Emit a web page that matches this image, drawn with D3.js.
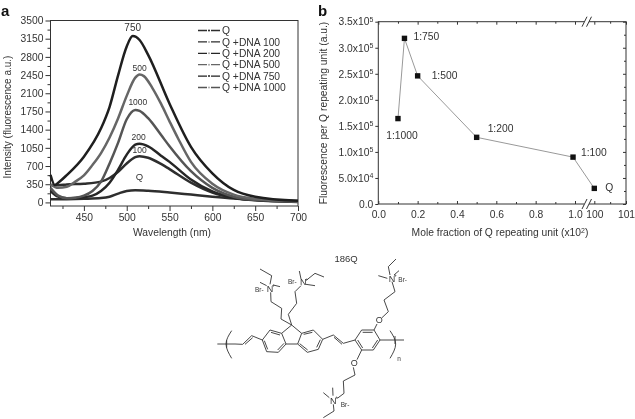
<!DOCTYPE html>
<html>
<head>
<meta charset="utf-8">
<script src="https://cdn.jsdelivr.net/npm/d3@7"></script>
<style>
body { margin: 0; background: #fff; }
svg { filter: blur(0.35px); }
text { font-family: "Liberation Sans", Arial, sans-serif; fill: #333; }
.domain, .tick line { stroke: #333; }
</style>
</head>
<body>
<svg id="chart" width="635" height="419"></svg>
<script>
// panel a: spectra [wavelength, intensity]
const specQ = [[411,60],[430,62],[450,70],[470,85],[480,110],[490,170],[500,220],[510,235],[525,225],[550,190],[575,150],[600,110],[625,75],[650,50],[700,25]];
const spec100 = [[411,330],[420,330],[430,345],[450,360],[470,400],[480,470],[490,590],[500,750],[510,870],[515,890],[525,860],[540,740],[550,640],[575,380],[600,190],[625,90],[650,45],[700,15]];
const spec200 = [[411,220],[420,110],[430,80],[450,100],[460,130],[470,220],[480,380],[490,630],[500,920],[510,1110],[515,1130],[525,1080],[540,900],[550,780],[575,440],[600,210],[625,90],[650,40],[700,10]];
const spec500 = [[411,350],[420,280],[430,300],[440,400],[450,520],[460,720],[470,950],[480,1250],[490,1620],[500,2050],[510,2400],[515,2460],[520,2430],[530,2200],[540,1900],[550,1560],[560,1230],[575,780],[600,360],[625,150],[650,70],[700,20]];
const spec750 = [[411,530],[416,335],[420,380],[430,526],[450,880],[470,1425],[480,1840],[490,2450],[500,3000],[507,3200],[515,3125],[525,2840],[550,1900],[575,1070],[600,560],[625,240],[650,110],[700,30]];
const spec1000 = [[411,280],[420,130],[430,80],[440,90],[450,130],[460,220],[470,400],[480,750],[490,1150],[500,1600],[510,1780],[515,1760],[525,1620],[540,1300],[550,1080],[575,600],[600,280],[625,110],[650,50],[700,15]];
const seriesNames = ['Q', 'Q +DNA 100', 'Q +DNA 200', 'Q +DNA 500', 'Q +DNA 750', 'Q +DNA 1000'];
const seriesValues = [specQ, spec100, spec200, spec500, spec750, spec1000];
const seriesColors = ['#2e2e2e', '#2e2e2e', '#262626', '#666', '#1f1f1f', '#555'];
const drawOrder = [0, 1, 2, 5, 3, 4];
const peakLabels = [['750', 507, 3290], ['500', 515, 2535], ['1000', 513, 1865], ['200', 514, 1200], ['100', 515, 960], ['Q', 515, 430]];
const yTicksA = [0, 350, 700, 1050, 1400, 1750, 2100, 2450, 2800, 3150, 3500];
const xTicksA = [450, 500, 550, 600, 650, 700];

// panel b
const moleFraction = [0.1, 0.133, 0.2, 0.5, 0.99, 100];
const fluorPerUnit = [1.64e5, 3.18e5, 2.46e5, 1.28e5, 0.9e5, 0.3e5];
const ratioLabels = ['1:1000', '1:750', '1:500', '1:200', '1:100', 'Q'];
const ratioDx = [4, 9, 14, 11, 8, 11];
const ratioDy = [20, 2, 3, -5, -1, 3];
const yTicksB = [[0, '0.0', ''], [5e4, '5.0x10', '4'], [1e5, '1.0x10', '5'], [1.5e5, '1.5x10', '5'], [2e5, '2.0x10', '5'], [2.5e5, '2.5x10', '5'], [3e5, '3.0x10', '5'], [3.5e5, '3.5x10', '5']];
const xTicksB = [[0, '0.0'], [0.2, '0.2'], [0.4, '0.4'], [0.6, '0.6'], [0.8, '0.8'], [1, '1.0'], [100, '100'], [101, '101']];
const xMinorB = [0.1, 0.3, 0.5, 0.7, 0.9, 100.5];
const yMinorB = [2.5e4, 7.5e4, 1.25e5, 1.75e5, 2.25e5, 2.75e5, 3.25e5];

// structure 186Q, drawn in its own 720 x 522 unit box
const bonds = [
  [[52,297],[105,297],[128,298],[155,272],[187,285]], [[80,285],[80,309]], [[135,298],[158,278]],
  [[187,285],[210,255],[245,265],[258,297],[235,322],[200,320],[187,285]],
  [[213,262],[240,270]], [[252,295],[233,315]], [[203,313],[193,287]],
  [[245,265],[275,240],[305,265],[293,297],[258,297]],
  [[305,265],[340,255],[368,283],[355,313],[322,322],[293,297]],
  [[311,268],[337,262]], [[361,284],[350,307]], [[323,315],[299,296]],
  [[368,283],[400,270],[430,295],[465,285]], [[402,277],[426,298]],
  [[465,285],[485,255],[522,255],[540,285],[520,315],[485,315],[465,285]],
  [[488,262],[518,262]], [[533,285],[517,309]], [[488,309],[473,285]],
  [[522,255],[531,237]], [[546,218],[565,200],[552,165],[585,140],[576,110]],
  [[570,90],[565,65],[588,42]], [[562,100],[535,92]], [[582,90],[597,77]],
  [[485,315],[471,344]], [[460,367],[465,390],[430,408],[432,445],[412,460]],
  [[388,458],[370,443]], [[399,452],[398,428]], [[400,478],[402,498],[370,518]],
  [[540,285],[612,285]], [[585,273],[585,297]],
  [[275,240],[243,222],[245,190],[213,170],[212,142]],
  [[210,118],[215,92],[180,72]], [[200,122],[180,112]], [[220,120],[240,125]],
  [[275,240],[265,208],[290,175],[285,140],[303,122]],
  [[303,102],[298,78]], [[318,118],[345,122]], [[320,105],[345,85],[372,96]]
];
const brackets = [[[95,257],[78,297],[95,340]], [[570,257],[587,297],[570,340]]];
const atoms = [['O',538,226,9],['O',463,355,9],['N',576,101,9],['N',400,467,9],['N',210,131,9],['N',310,112,9],
  ['+',586,92,5],['+',410,458,5],['+',220,122,5],['+',320,103,5],
  ['Br-',608,103,6.5],['Br-',435,479,6.5],['Br-',178,133,6.5],['Br-',277,109,6.5],['n',597,342,6.5]];

const fs = '10.3px';
const svg = d3.select('#chart');

function sup(sel, base, power) {
    sel.text(base);
    if (power) {
        sel.append('tspan').attr('dy', -3.5).style('font-size', '7px').text(power);
    }
}

// ---- panel a
const xA = d3.scaleLinear().domain([411, 700]).range([50.5, 298]);
const yA = d3.scaleLinear().domain([-69, 3500]).range([206, 20.5]);
const plotA = svg.append('g');

plotA.append('rect').attr('x', 50.5).attr('y', 20.5).attr('width', 247.5).attr('height', 185.5)
    .attr('fill', 'none').attr('stroke', '#333').attr('stroke-width', 1);

const axLeftA = d3.axisLeft(yA).tickValues(yTicksA).tickSize(5).tickPadding(2).tickFormat(d3.format('d'));
const gya = plotA.append('g').attr('transform', 'translate(50.5,0)').call(axLeftA);
gya.select('.domain').remove();
gya.selectAll('text').style('font-size', fs);
plotA.append('g').attr('transform', 'translate(50.5,0)')
    .call(d3.axisLeft(yA).tickValues(d3.range(175, 3500, 350)).tickSize(3).tickFormat(''))
    .select('.domain').remove();

const axBottomA = d3.axisBottom(xA).tickValues(xTicksA).tickSize(5).tickPadding(3);
const gxa = plotA.append('g').attr('transform', 'translate(0,206)').call(axBottomA);
gxa.select('.domain').remove();
gxa.selectAll('text').style('font-size', fs);
plotA.append('g').attr('transform', 'translate(0,206)')
    .call(d3.axisBottom(xA).tickValues(d3.range(425, 700, 50)).tickSize(3).tickFormat(''))
    .select('.domain').remove();

const lineA = d3.line().x(d => xA(d[0])).y(d => yA(d[1])).curve(d3.curveMonotoneX);
plotA.selectAll('.spec').data(drawOrder).enter().append('path')
    .attr('class', 'spec')
    .attr('d', i => lineA(seriesValues[i]))
    .attr('fill', 'none')
    .attr('stroke', i => seriesColors[i])
    .attr('stroke-width', 2.5);

plotA.selectAll('.peak').data(peakLabels).enter().append('text')
    .attr('class', 'peak')
    .attr('x', d => xA(d[1]))
    .attr('y', d => yA(d[2]))
    .attr('text-anchor', 'middle')
    .style('font-size', (d, i) => i === 0 ? '10px' : (i === 5 ? '9.5px' : '8.5px'))
    .text(d => d[0]);

const legend = plotA.selectAll('.leg').data(seriesNames).enter().append('g')
    .attr('class', 'leg')
    .attr('transform', (d, i) => 'translate(198,' + (30.5 + i * 11.4) + ')');
legend.append('line').attr('x1', 0).attr('x2', 22).attr('stroke', (d, i) => seriesColors[i]).attr('stroke-width', 1.3).attr('stroke-dasharray', '9 4 9');
legend.append('circle').attr('cx', 11).attr('r', 1).attr('fill', (d, i) => (i === 0 || i === 4) ? '#222' : '#aaa');
legend.append('text').attr('x', 24).attr('y', 3.7).style('font-size', fs).text(d => d);

plotA.append('text').attr('x', 172).attr('y', 236).attr('text-anchor', 'middle').style('font-size', fs).text('Wavelength (nm)');
plotA.append('text').attr('transform', 'translate(11,117) rotate(-90)').attr('text-anchor', 'middle').style('font-size', '10px').text('Intensity (fluorescence a.u.)');
svg.append('text').attr('x', 1).attr('y', 16).style('font-size', '15px').style('font-weight', 'bold').style('fill', '#111').text('a');

// ---- panel b
const xB = d3.scaleLinear().domain([0, 1, 100, 101]).range([378.3, 575, 594.3, 626]);
const yB = d3.scaleLinear().domain([0, 3.5e5]).range([204, 21.7]);
const plotB = svg.append('g');

plotB.append('rect').attr('x', 378.3).attr('y', 21.7).attr('width', 247.7).attr('height', 182.3)
    .attr('fill', 'none').attr('stroke', '#333').attr('stroke-width', 1);

const gyb = plotB.append('g').attr('transform', 'translate(378.3,0)')
    .call(d3.axisLeft(yB).tickValues(yTicksB.map(d => d[0])).tickSize(3).tickPadding(2).tickFormat(''));
gyb.select('.domain').remove();
gyb.selectAll('.tick text').each(function (d, i) {
    d3.select(this).style('font-size', fs).call(sup, yTicksB[i][1], yTicksB[i][2]);
});
const gyr = plotB.append('g').attr('transform', 'translate(626,0)')
    .call(d3.axisRight(yB).tickValues(yTicksB.map(d => d[0])).tickSize(-3).tickFormat(''));
gyr.select('.domain').remove();
plotB.append('g').attr('transform', 'translate(626,0)')
    .call(d3.axisRight(yB).tickValues(yMinorB).tickSize(-2).tickFormat(''))
    .select('.domain').remove();

// bottom ticks point into the plot, labels stay below
const gxb = plotB.append('g').attr('transform', 'translate(0,204)')
    .call(d3.axisBottom(xB).tickValues(xTicksB.map(d => d[0])).tickSizeInner(-3).tickSizeOuter(0).tickPadding(7).tickFormat((d, i) => xTicksB[i][1]));
gxb.select('.domain').remove();
gxb.selectAll('text').style('font-size', fs);
plotB.append('g').attr('transform', 'translate(0,204)')
    .call(d3.axisBottom(xB).tickValues(xMinorB).tickSize(-2).tickFormat(''))
    .select('.domain').remove();
const gxt = plotB.append('g').attr('transform', 'translate(0,21.7)')
    .call(d3.axisTop(xB).tickValues(xTicksB.map(d => d[0])).tickSize(-3).tickFormat(''));
gxt.select('.domain').remove();
plotB.append('g').attr('transform', 'translate(0,21.7)')
    .call(d3.axisTop(xB).tickValues(xMinorB).tickSize(-2).tickFormat(''))
    .select('.domain').remove();

// axis break marks, top and bottom
[21.7, 204].forEach(yy => {
    plotB.append('rect').attr('x', 584).attr('y', yy - 1.5).attr('width', 5).attr('height', 3).attr('fill', '#fff');
    [584, 588.5].forEach(bx => {
        plotB.append('line').attr('x1', bx - 2).attr('x2', bx + 3).attr('y1', yy + 5).attr('y2', yy - 5)
            .attr('stroke', '#333').attr('stroke-width', 1);
    });
});

plotB.append('path')
    .attr('d', d3.line().x((d, i) => xB(moleFraction[i])).y(d => yB(d))(fluorPerUnit))
    .attr('fill', 'none').attr('stroke', '#999').attr('stroke-width', 1);
plotB.selectAll('.pt').data(fluorPerUnit).enter().append('rect')
    .attr('class', 'pt')
    .attr('x', (d, i) => xB(moleFraction[i]) - 2.7)
    .attr('y', d => yB(d) - 2.7)
    .attr('width', 5.4).attr('height', 5.4)
    .attr('fill', '#111');
plotB.selectAll('.ratio').data(ratioLabels).enter().append('text')
    .attr('class', 'ratio')
    .attr('x', (d, i) => xB(moleFraction[i]) + ratioDx[i])
    .attr('y', (d, i) => yB(fluorPerUnit[i]) + ratioDy[i])
    .attr('text-anchor', (d, i) => i === 0 ? 'middle' : 'start')
    .style('font-size', fs)
    .text(d => d);

plotB.append('text').attr('x', 500).attr('y', 236).attr('text-anchor', 'middle').style('font-size', fs)
    .call(sup, 'Mole fraction of Q repeating unit (x10', '2').append('tspan').attr('dy', 3.5).text(')');
plotB.append('text').attr('transform', 'translate(327,113) rotate(-90)').attr('text-anchor', 'middle').style('font-size', fs)
    .text('Fluorescence per Q repeating unit (a.u.)');
svg.append('text').attr('x', 318).attr('y', 16).style('font-size', '15px').style('font-weight', 'bold').style('fill', '#111').text('b');

// ---- structure
const mx = d3.scaleLinear().domain([0, 720]).range([200, 440]);
const my = d3.scaleLinear().domain([0, 522]).range([245, 419]);
const mol = svg.append('g');
const molLine = d3.line().x(d => mx(d[0])).y(d => my(d[1]));
mol.selectAll('.bond').data(bonds).enter().append('path')
    .attr('class', 'bond').attr('d', molLine)
    .attr('fill', 'none').attr('stroke', '#333').attr('stroke-width', 0.9);
mol.selectAll('.bracket').data(brackets).enter().append('path')
    .attr('class', 'bracket').attr('d', molLine.curve(d3.curveNatural))
    .attr('fill', 'none').attr('stroke', '#333').attr('stroke-width', 0.9);
mol.selectAll('.atom').data(atoms).enter().append('text')
    .attr('class', 'atom')
    .attr('x', d => mx(d[1])).attr('y', d => my(d[2]) + d[3] * 0.35)
    .attr('text-anchor', 'middle')
    .style('font-size', d => d[3] + 'px')
    .text(d => d[0]);
mol.append('text').attr('x', mx(438)).attr('y', my(52)).attr('text-anchor', 'middle').style('font-size', '9.5px').text('186Q');
</script>
</body>
</html>
